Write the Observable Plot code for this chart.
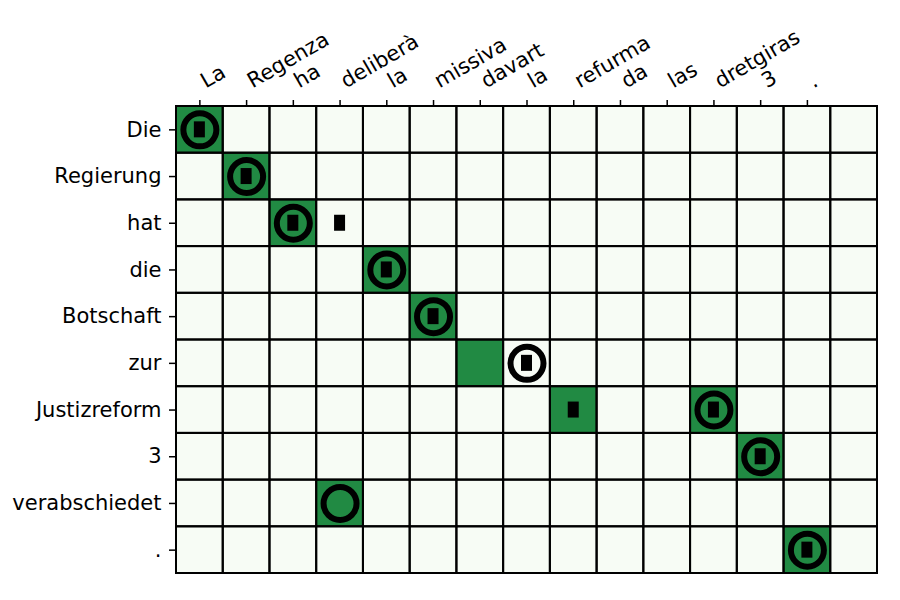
<!DOCTYPE html>
<html><head><meta charset="utf-8">
<script src="https://cdn.jsdelivr.net/npm/d3@7"></script>
<script src="https://cdn.jsdelivr.net/npm/@observablehq/plot@0.6"></script>
<style>body{margin:0;background:#fff;}</style>
</head><body><div id="chart"></div>
<script>
const colLabels = ["La","Regenza","ha","deliberà","la","missiva","davart","la","refurma","da","las","dretgiras","3","."];
const rowLabels = ["Die","Regierung","hat","die","Botschaft","zur","Justizreform","3","verabschiedet","."];
const nCols = 15;
const alignPairs = [[0,0],[1,1],[2,2],[3,4],[4,5],[5,6],[6,8],[6,11],[7,12],[8,3],[9,13]];
const ringPairs  = [[0,0],[1,1],[2,2],[3,4],[4,5],[5,7],[6,11],[7,12],[8,3],[9,13]];
const rectPairs  = [[0,0],[1,1],[2,2],[2,3],[3,4],[4,5],[5,7],[6,8],[6,11],[7,12],[9,13]];

const toObj = p => ({r: p[0], c: p[1]});
const allCells = [];
for (let r = 0; r < rowLabels.length; r++) for (let c = 0; c < nCols; c++) allCells.push({r, c});

const W = 900, H = 600, mL = 176, mR = 23, mT = 106, mB = 27;
const cellW = (W - mL - mR) / nCols;
const cellH = (H - mT - mB) / rowLabels.length;
const rw = 11, rh = 16;

const chart = Plot.plot({
  width: W, height: H, marginLeft: mL, marginRight: mR, marginTop: mT, marginBottom: mB,
  style: {fontFamily: "DejaVu Sans", fontSize: "21px", background: "#fff", color: "black"},
  x: {type: "band", domain: d3.range(nCols), padding: 0, round: false, axis: null},
  y: {type: "band", domain: d3.range(rowLabels.length), padding: 0, round: false, axis: null},
  marks: [
    Plot.cell(allCells, {x: "c", y: "r", fill: "#f7fcf5", inset: 0}),
    Plot.cell(alignPairs.map(toObj), {x: "c", y: "r", fill: "#218a43", inset: 0}),
    Plot.cell(allCells, {x: "c", y: "r", fill: "none", stroke: "black", strokeWidth: 2, inset: 0}),
    Plot.dot(ringPairs.map(toObj), {x: "c", y: "r", r: 16.5, stroke: "black", strokeWidth: 6, fill: "none"}),
    Plot.cell(rectPairs.map(toObj), {x: "c", y: "r", fill: "black",
      insetLeft: (cellW - rw) / 2, insetRight: (cellW - rw) / 2,
      insetTop: (cellH - rh) / 2, insetBottom: (cellH - rh) / 2}),
    Plot.axisX({anchor: "top", ticks: d3.range(colLabels.length), tickSize: 7, tickFormat: () => "", strokeWidth: 1.5, label: null}),
    Plot.text(colLabels.map((t, i) => ({i, t})), {x: "i", text: "t", frameAnchor: "top", rotate: -30,
      textAnchor: "start", lineAnchor: "bottom", dx: 6, dy: -18, fontSize: 21, fill: "black"}),
    Plot.axisY({anchor: "left", ticks: d3.range(rowLabels.length), tickFormat: i => rowLabels[i],
      tickSize: 7, tickPadding: 8, fontSize: 21, strokeWidth: 1.5, label: null})
  ]
});
document.getElementById("chart").appendChild(chart);
</script>
</body></html>
